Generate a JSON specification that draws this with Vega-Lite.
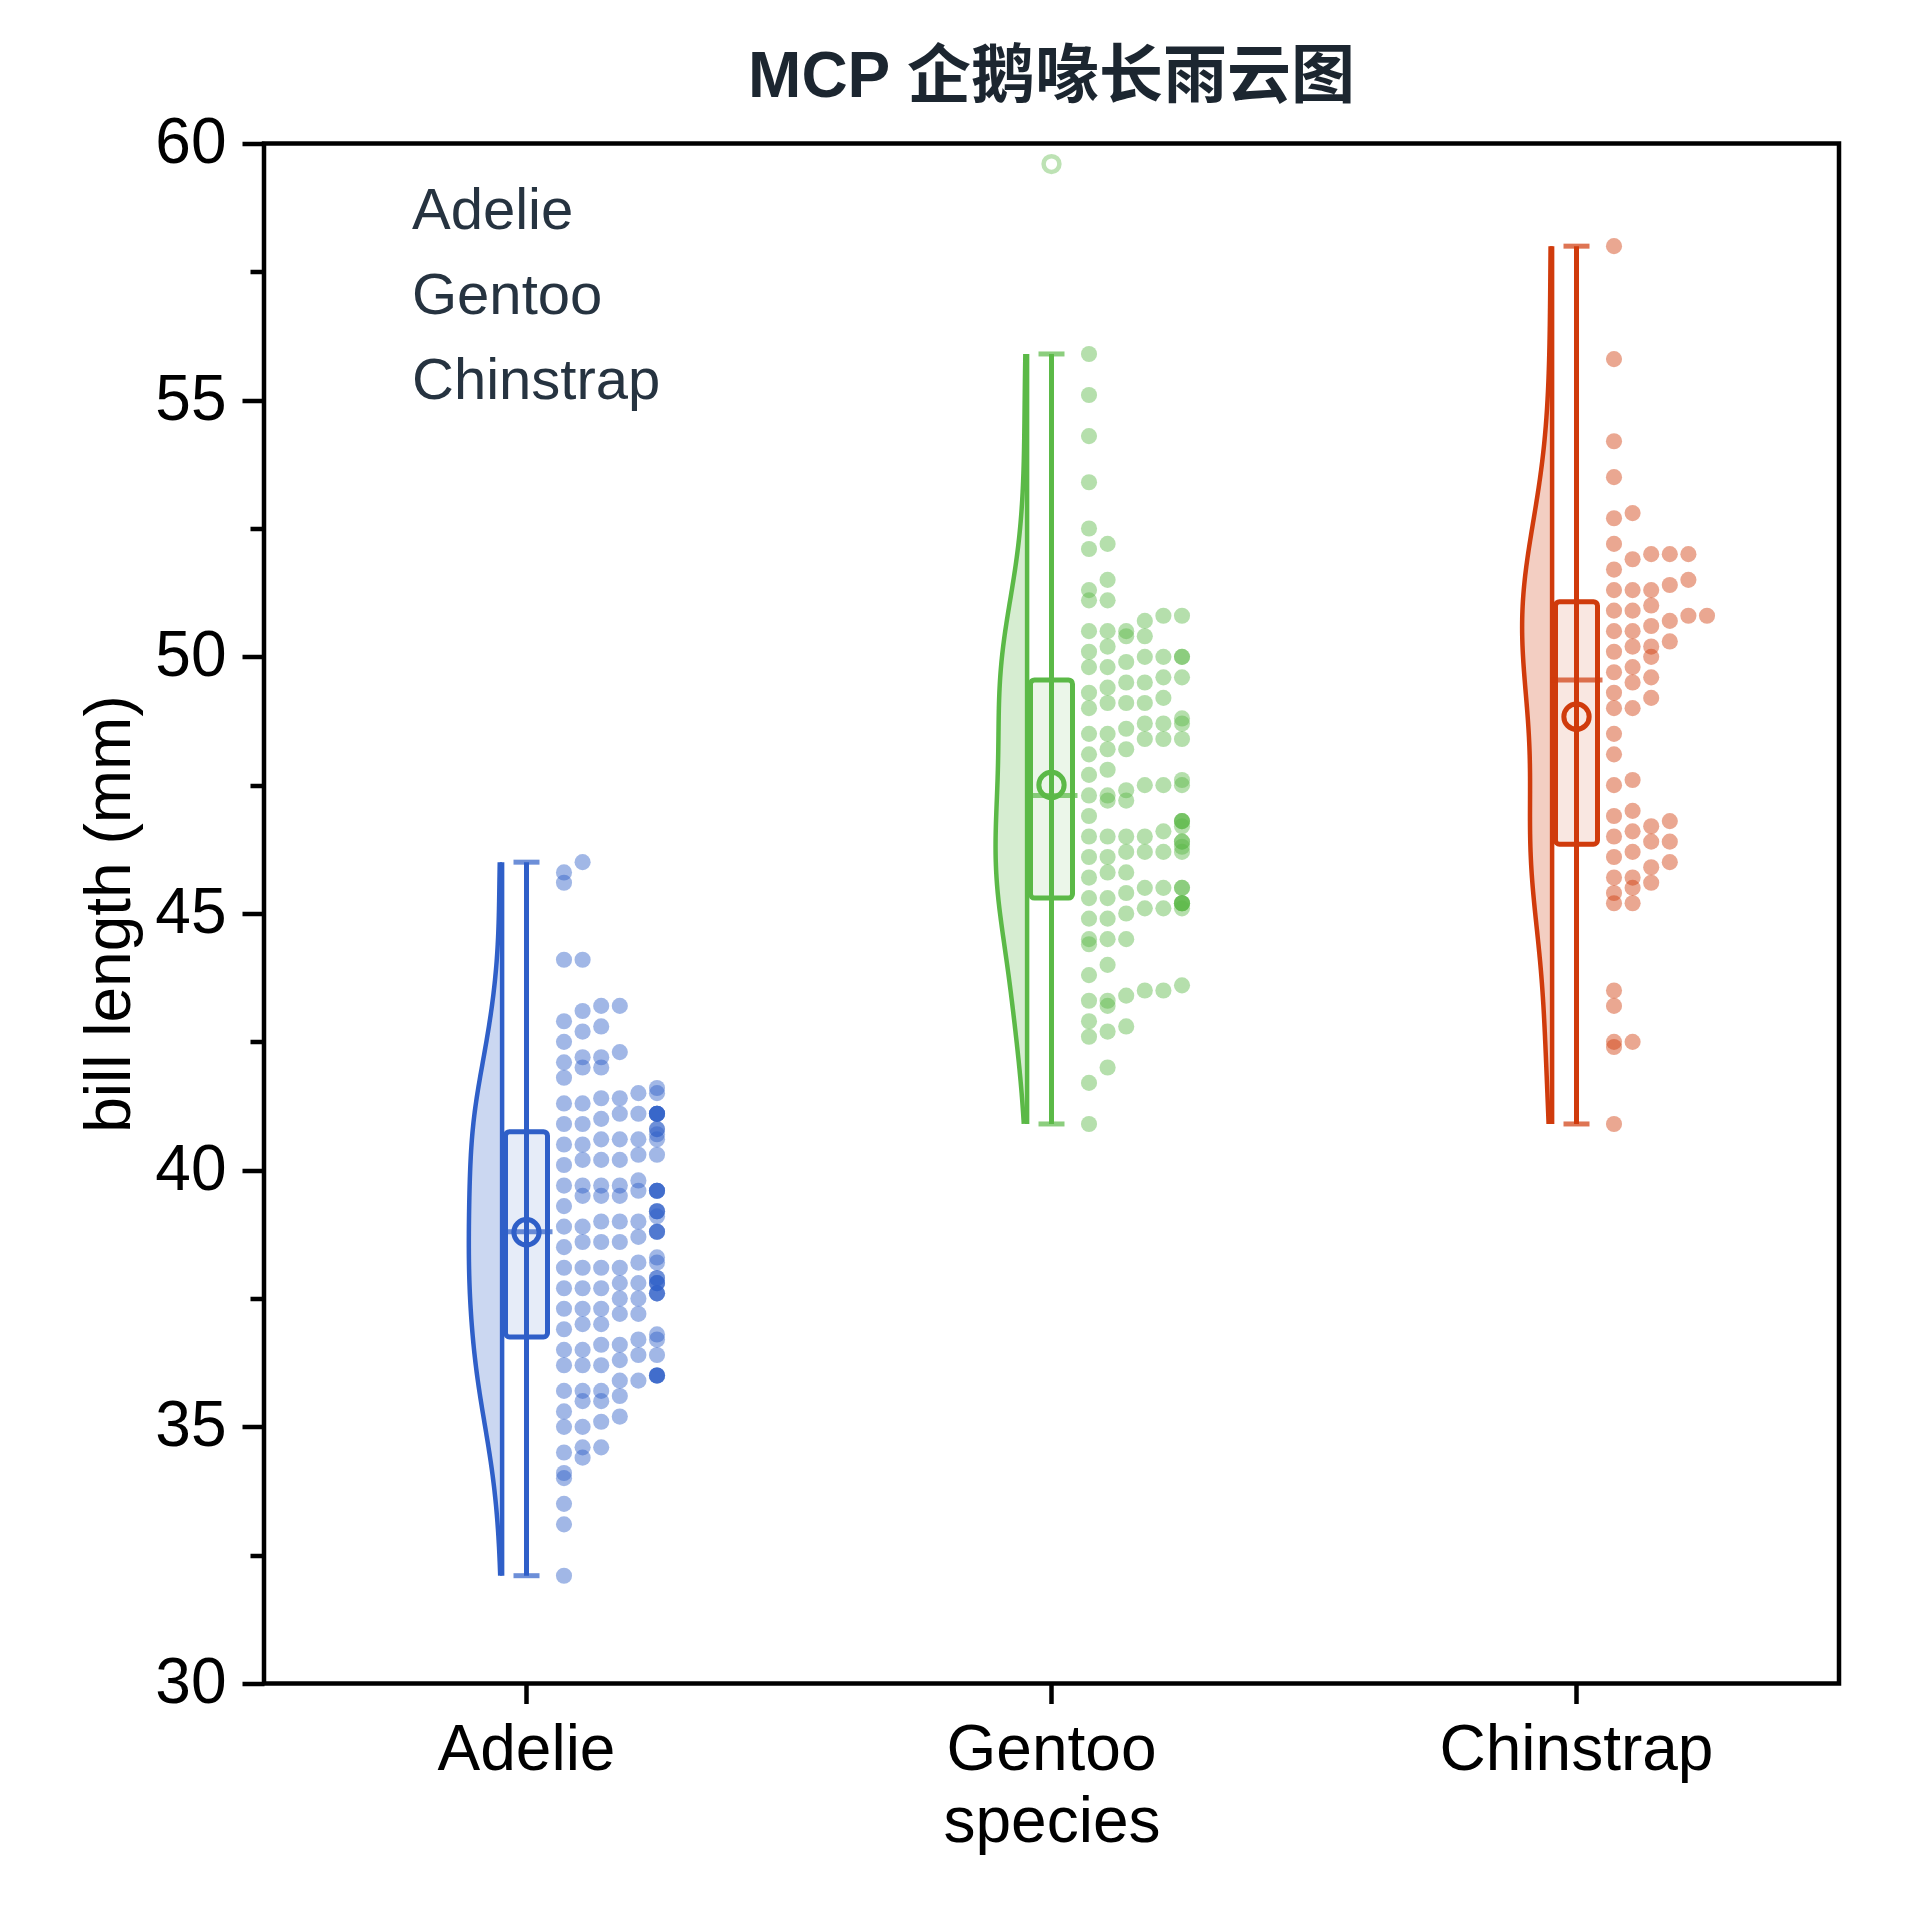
{
"$schema": "https://vega.github.io/schema/vega-lite/v6.json",
"width": 1575, "height": 1540,
"autosize": {"type": "none"},
"padding": {"left": 264, "top": 143.5, "right": 81, "bottom": 236.5},
"background": "white",
"title": {"text": "MCP 企鹅喙长雨云图", "font": "Liberation Sans, Noto Sans CJK SC", "fontSize": 64, "fontWeight": "bold", "color": "#1c2630", "anchor": "middle", "offset": 2},
"config": {"view": {"stroke": "#000000", "strokeWidth": 4.5}},
"datasets": {"penguins": [
{"species":"Adelie","bill":39.1},{"species":"Adelie","bill":39.5},{"species":"Adelie","bill":40.3},{"species":"Adelie","bill":36.7},{"species":"Adelie","bill":39.3},{"species":"Adelie","bill":38.9},{"species":"Adelie","bill":39.2},{"species":"Adelie","bill":34.1},{"species":"Adelie","bill":42.0},{"species":"Adelie","bill":37.8},
{"species":"Adelie","bill":37.8},{"species":"Adelie","bill":41.1},{"species":"Adelie","bill":38.6},{"species":"Adelie","bill":34.6},{"species":"Adelie","bill":36.6},{"species":"Adelie","bill":38.7},{"species":"Adelie","bill":42.5},{"species":"Adelie","bill":34.4},{"species":"Adelie","bill":46.0},{"species":"Adelie","bill":37.8},
{"species":"Adelie","bill":37.7},{"species":"Adelie","bill":35.9},{"species":"Adelie","bill":38.2},{"species":"Adelie","bill":38.8},{"species":"Adelie","bill":35.3},{"species":"Adelie","bill":40.6},{"species":"Adelie","bill":40.5},{"species":"Adelie","bill":37.9},{"species":"Adelie","bill":40.5},{"species":"Adelie","bill":39.5},
{"species":"Adelie","bill":37.2},{"species":"Adelie","bill":39.5},{"species":"Adelie","bill":40.9},{"species":"Adelie","bill":36.4},{"species":"Adelie","bill":39.2},{"species":"Adelie","bill":38.8},{"species":"Adelie","bill":42.2},{"species":"Adelie","bill":37.6},{"species":"Adelie","bill":39.8},{"species":"Adelie","bill":36.5},
{"species":"Adelie","bill":40.8},{"species":"Adelie","bill":36.0},{"species":"Adelie","bill":44.1},{"species":"Adelie","bill":37.0},{"species":"Adelie","bill":39.6},{"species":"Adelie","bill":41.1},{"species":"Adelie","bill":37.5},{"species":"Adelie","bill":36.0},{"species":"Adelie","bill":42.3},{"species":"Adelie","bill":39.6},
{"species":"Adelie","bill":40.1},{"species":"Adelie","bill":35.0},{"species":"Adelie","bill":42.0},{"species":"Adelie","bill":34.5},{"species":"Adelie","bill":41.4},{"species":"Adelie","bill":39.0},{"species":"Adelie","bill":40.6},{"species":"Adelie","bill":36.5},{"species":"Adelie","bill":37.6},{"species":"Adelie","bill":35.7},
{"species":"Adelie","bill":41.3},{"species":"Adelie","bill":37.6},{"species":"Adelie","bill":41.1},{"species":"Adelie","bill":36.4},{"species":"Adelie","bill":41.6},{"species":"Adelie","bill":35.5},{"species":"Adelie","bill":41.1},{"species":"Adelie","bill":35.9},{"species":"Adelie","bill":41.8},{"species":"Adelie","bill":33.5},
{"species":"Adelie","bill":39.7},{"species":"Adelie","bill":39.6},{"species":"Adelie","bill":45.8},{"species":"Adelie","bill":35.5},{"species":"Adelie","bill":42.8},{"species":"Adelie","bill":40.9},{"species":"Adelie","bill":37.2},{"species":"Adelie","bill":36.2},{"species":"Adelie","bill":42.1},{"species":"Adelie","bill":34.6},
{"species":"Adelie","bill":42.9},{"species":"Adelie","bill":36.7},{"species":"Adelie","bill":35.1},{"species":"Adelie","bill":37.3},{"species":"Adelie","bill":41.3},{"species":"Adelie","bill":36.3},{"species":"Adelie","bill":36.9},{"species":"Adelie","bill":38.3},{"species":"Adelie","bill":38.9},{"species":"Adelie","bill":35.7},
{"species":"Adelie","bill":41.1},{"species":"Adelie","bill":34.0},{"species":"Adelie","bill":39.6},{"species":"Adelie","bill":36.2},{"species":"Adelie","bill":40.8},{"species":"Adelie","bill":38.1},{"species":"Adelie","bill":40.3},{"species":"Adelie","bill":33.1},{"species":"Adelie","bill":43.2},{"species":"Adelie","bill":35.0},
{"species":"Adelie","bill":41.0},{"species":"Adelie","bill":37.7},{"species":"Adelie","bill":37.8},{"species":"Adelie","bill":37.9},{"species":"Adelie","bill":39.7},{"species":"Adelie","bill":38.6},{"species":"Adelie","bill":38.2},{"species":"Adelie","bill":38.1},{"species":"Adelie","bill":43.2},{"species":"Adelie","bill":38.1},
{"species":"Adelie","bill":45.6},{"species":"Adelie","bill":39.7},{"species":"Adelie","bill":42.2},{"species":"Adelie","bill":39.6},{"species":"Adelie","bill":42.7},{"species":"Adelie","bill":38.6},{"species":"Adelie","bill":37.3},{"species":"Adelie","bill":35.7},{"species":"Adelie","bill":41.1},{"species":"Adelie","bill":36.2},
{"species":"Adelie","bill":37.7},{"species":"Adelie","bill":40.2},{"species":"Adelie","bill":41.4},{"species":"Adelie","bill":35.2},{"species":"Adelie","bill":40.6},{"species":"Adelie","bill":38.8},{"species":"Adelie","bill":41.5},{"species":"Adelie","bill":39.0},{"species":"Adelie","bill":44.1},{"species":"Adelie","bill":38.5},
{"species":"Adelie","bill":43.1},{"species":"Adelie","bill":36.8},{"species":"Adelie","bill":37.5},{"species":"Adelie","bill":38.1},{"species":"Adelie","bill":41.1},{"species":"Adelie","bill":35.6},{"species":"Adelie","bill":40.2},{"species":"Adelie","bill":37.0},{"species":"Adelie","bill":39.7},{"species":"Adelie","bill":40.2},
{"species":"Adelie","bill":40.6},{"species":"Adelie","bill":32.1},{"species":"Adelie","bill":40.7},{"species":"Adelie","bill":37.3},{"species":"Adelie","bill":39.0},{"species":"Adelie","bill":39.2},{"species":"Adelie","bill":36.6},{"species":"Adelie","bill":36.0},{"species":"Adelie","bill":37.8},{"species":"Adelie","bill":36.0},
{"species":"Adelie","bill":41.5},
{"species":"Gentoo","bill":46.1},{"species":"Gentoo","bill":50.0},{"species":"Gentoo","bill":48.7},{"species":"Gentoo","bill":50.0},{"species":"Gentoo","bill":47.6},{"species":"Gentoo","bill":46.5},{"species":"Gentoo","bill":45.4},{"species":"Gentoo","bill":46.7},{"species":"Gentoo","bill":43.3},{"species":"Gentoo","bill":46.8},
{"species":"Gentoo","bill":40.9},{"species":"Gentoo","bill":49.0},{"species":"Gentoo","bill":45.5},{"species":"Gentoo","bill":48.4},{"species":"Gentoo","bill":45.8},{"species":"Gentoo","bill":49.3},{"species":"Gentoo","bill":42.0},{"species":"Gentoo","bill":49.2},{"species":"Gentoo","bill":46.2},{"species":"Gentoo","bill":48.7},
{"species":"Gentoo","bill":50.2},{"species":"Gentoo","bill":45.1},{"species":"Gentoo","bill":46.5},{"species":"Gentoo","bill":46.3},{"species":"Gentoo","bill":42.9},{"species":"Gentoo","bill":46.1},{"species":"Gentoo","bill":44.5},{"species":"Gentoo","bill":47.8},{"species":"Gentoo","bill":48.2},{"species":"Gentoo","bill":50.0},
{"species":"Gentoo","bill":47.3},{"species":"Gentoo","bill":42.8},{"species":"Gentoo","bill":45.1},{"species":"Gentoo","bill":59.6},{"species":"Gentoo","bill":49.1},{"species":"Gentoo","bill":48.4},{"species":"Gentoo","bill":42.6},{"species":"Gentoo","bill":44.4},{"species":"Gentoo","bill":44.0},{"species":"Gentoo","bill":48.7},
{"species":"Gentoo","bill":42.7},{"species":"Gentoo","bill":49.6},{"species":"Gentoo","bill":45.3},{"species":"Gentoo","bill":49.6},{"species":"Gentoo","bill":50.5},{"species":"Gentoo","bill":43.6},{"species":"Gentoo","bill":45.5},{"species":"Gentoo","bill":50.5},{"species":"Gentoo","bill":44.9},{"species":"Gentoo","bill":45.2},
{"species":"Gentoo","bill":46.6},{"species":"Gentoo","bill":48.5},{"species":"Gentoo","bill":45.1},{"species":"Gentoo","bill":50.1},{"species":"Gentoo","bill":46.5},{"species":"Gentoo","bill":45.0},{"species":"Gentoo","bill":43.8},{"species":"Gentoo","bill":45.5},{"species":"Gentoo","bill":43.2},{"species":"Gentoo","bill":50.4},
{"species":"Gentoo","bill":45.3},{"species":"Gentoo","bill":46.2},{"species":"Gentoo","bill":45.7},{"species":"Gentoo","bill":54.3},{"species":"Gentoo","bill":45.8},{"species":"Gentoo","bill":49.8},{"species":"Gentoo","bill":46.2},{"species":"Gentoo","bill":49.5},{"species":"Gentoo","bill":43.5},{"species":"Gentoo","bill":50.7},
{"species":"Gentoo","bill":47.7},{"species":"Gentoo","bill":46.4},{"species":"Gentoo","bill":48.2},{"species":"Gentoo","bill":46.5},{"species":"Gentoo","bill":46.4},{"species":"Gentoo","bill":48.6},{"species":"Gentoo","bill":47.5},{"species":"Gentoo","bill":51.1},{"species":"Gentoo","bill":45.2},{"species":"Gentoo","bill":45.2},
{"species":"Gentoo","bill":49.1},{"species":"Gentoo","bill":52.5},{"species":"Gentoo","bill":47.4},{"species":"Gentoo","bill":50.0},{"species":"Gentoo","bill":44.9},{"species":"Gentoo","bill":50.8},{"species":"Gentoo","bill":43.4},{"species":"Gentoo","bill":51.3},{"species":"Gentoo","bill":47.5},{"species":"Gentoo","bill":52.1},
{"species":"Gentoo","bill":47.5},{"species":"Gentoo","bill":52.2},{"species":"Gentoo","bill":45.5},{"species":"Gentoo","bill":49.5},{"species":"Gentoo","bill":44.5},{"species":"Gentoo","bill":50.8},{"species":"Gentoo","bill":49.4},{"species":"Gentoo","bill":46.9},{"species":"Gentoo","bill":48.4},{"species":"Gentoo","bill":51.1},
{"species":"Gentoo","bill":48.5},{"species":"Gentoo","bill":55.9},{"species":"Gentoo","bill":47.2},{"species":"Gentoo","bill":49.1},{"species":"Gentoo","bill":47.3},{"species":"Gentoo","bill":46.8},{"species":"Gentoo","bill":41.7},{"species":"Gentoo","bill":53.4},{"species":"Gentoo","bill":43.3},{"species":"Gentoo","bill":48.1},
{"species":"Gentoo","bill":50.5},{"species":"Gentoo","bill":49.8},{"species":"Gentoo","bill":43.5},{"species":"Gentoo","bill":51.5},{"species":"Gentoo","bill":46.2},{"species":"Gentoo","bill":55.1},{"species":"Gentoo","bill":44.5},{"species":"Gentoo","bill":48.8},{"species":"Gentoo","bill":47.2},{"species":"Gentoo","bill":46.8},
{"species":"Gentoo","bill":50.4},{"species":"Gentoo","bill":45.2},{"species":"Gentoo","bill":49.9},
{"species":"Chinstrap","bill":46.5},{"species":"Chinstrap","bill":50.0},{"species":"Chinstrap","bill":51.3},{"species":"Chinstrap","bill":45.4},{"species":"Chinstrap","bill":52.7},{"species":"Chinstrap","bill":45.2},{"species":"Chinstrap","bill":46.1},{"species":"Chinstrap","bill":51.3},{"species":"Chinstrap","bill":46.0},{"species":"Chinstrap","bill":51.3},
{"species":"Chinstrap","bill":46.6},{"species":"Chinstrap","bill":51.7},{"species":"Chinstrap","bill":47.0},{"species":"Chinstrap","bill":52.0},{"species":"Chinstrap","bill":45.9},{"species":"Chinstrap","bill":50.5},{"species":"Chinstrap","bill":50.3},{"species":"Chinstrap","bill":58.0},{"species":"Chinstrap","bill":46.4},{"species":"Chinstrap","bill":49.2},
{"species":"Chinstrap","bill":42.4},{"species":"Chinstrap","bill":48.5},{"species":"Chinstrap","bill":43.2},{"species":"Chinstrap","bill":50.6},{"species":"Chinstrap","bill":46.7},{"species":"Chinstrap","bill":52.0},{"species":"Chinstrap","bill":50.5},{"species":"Chinstrap","bill":49.5},{"species":"Chinstrap","bill":46.4},{"species":"Chinstrap","bill":52.8},
{"species":"Chinstrap","bill":40.9},{"species":"Chinstrap","bill":54.2},{"species":"Chinstrap","bill":42.5},{"species":"Chinstrap","bill":51.0},{"species":"Chinstrap","bill":49.7},{"species":"Chinstrap","bill":47.5},{"species":"Chinstrap","bill":47.6},{"species":"Chinstrap","bill":52.0},{"species":"Chinstrap","bill":46.9},{"species":"Chinstrap","bill":53.5},
{"species":"Chinstrap","bill":49.0},{"species":"Chinstrap","bill":46.2},{"species":"Chinstrap","bill":50.9},{"species":"Chinstrap","bill":45.5},{"species":"Chinstrap","bill":50.9},{"species":"Chinstrap","bill":50.8},{"species":"Chinstrap","bill":50.1},{"species":"Chinstrap","bill":49.0},{"species":"Chinstrap","bill":51.5},{"species":"Chinstrap","bill":49.8},
{"species":"Chinstrap","bill":48.1},{"species":"Chinstrap","bill":51.4},{"species":"Chinstrap","bill":45.7},{"species":"Chinstrap","bill":50.7},{"species":"Chinstrap","bill":42.5},{"species":"Chinstrap","bill":52.2},{"species":"Chinstrap","bill":45.2},{"species":"Chinstrap","bill":49.3},{"species":"Chinstrap","bill":50.2},{"species":"Chinstrap","bill":45.6},
{"species":"Chinstrap","bill":51.9},{"species":"Chinstrap","bill":46.8},{"species":"Chinstrap","bill":45.7},{"species":"Chinstrap","bill":55.8},{"species":"Chinstrap","bill":43.5},{"species":"Chinstrap","bill":49.6},{"species":"Chinstrap","bill":50.8},{"species":"Chinstrap","bill":50.2}
]},
"data": {"name": "penguins"},
"resolve": {"scale": {"xOffset": "independent"}},
"encoding": {
  "x": {"field": "species", "type": "nominal", "title": "species",
    "scale": {"domain": ["Adelie", "Gentoo", "Chinstrap"], "paddingInner": 0, "paddingOuter": 0},
    "axis": {"labelAngle": 0, "labelFont": "Liberation Sans", "labelFontSize": 64, "labelColor": "#000000", "labelLimit": 600, "titleFont": "Liberation Sans", "titleFontSize": 64, "titleFontWeight": "normal", "titleColor": "#000000", "tickSize": 20, "tickWidth": 4.5, "tickColor": "#000000", "domain": false, "grid": false, "labelPadding": 15, "titlePadding": 8}}
},
"layer": [
  {
    "transform": [
      {"filter": {"field": "species", "equal": "Adelie"}},
      {"joinaggregate": [{"op": "q1", "field": "bill", "as": "q1"}, {"op": "q3", "field": "bill", "as": "q3"}], "groupby": ["species"]},
      {"filter": "datum.bill >= datum.q1 - 1.5*(datum.q3-datum.q1) && datum.bill <= datum.q3 + 1.5*(datum.q3-datum.q1)"},
      {"density": "bill", "groupby": ["species"], "as": ["value", "density"]}
    ],
    "encoding": {
      "y": {"field": "value", "type": "quantitative", "stack": null, "title": "bill length (mm)",
        "scale": {"domain": [30, 60], "nice": false, "zero": false},
        "axis": {"values": [30, 32.5, 35, 37.5, 40, 42.5, 45, 47.5, 50, 52.5, 55, 57.5, 60],
          "labelExpr": "datum.value % 5 === 0 ? datum.label : ''",
          "tickSize": {"condition": {"test": "datum.value % 5 === 0", "value": 22}, "value": 14},
          "tickWidth": 4.5, "tickColor": "#000000", "domain": false, "grid": false,
          "labelFont": "Liberation Sans", "labelFontSize": 64, "labelColor": "#000000", "labelPadding": 16,
          "titleFont": "Liberation Sans", "titleFontSize": 64, "titleFontWeight": "normal", "titleColor": "#000000", "titlePadding": 12}},
      "xOffset": {"field": "density", "type": "quantitative", "scale": {"domain": [0, 0.14], "range": [238, 202]}},
      "color": {"field": "species", "type": "nominal",
        "scale": {"domain": ["Adelie", "Gentoo", "Chinstrap"], "range": ["#2f5fc8", "#5bb947", "#d03b0c"]},
        "legend": {"orient": "none", "legendX": 90, "legendY": 39, "title": null, "symbolSize": 0, "symbolOpacity": 0, "symbolStrokeWidth": 0, "labelFont": "Liberation Sans", "labelFontSize": 58, "labelColor": "#263340", "rowPadding": 27, "padding": 0, "labelOffset": 0, "labelLimit": 0}}
    },
    "layer": [
      {"mark": {"type": "area", "orient": "horizontal", "x2Offset": -24.4}, "encoding": {"x2": {"field": "species"}, "fillOpacity": {"value": 0.25}}},
      {"mark": {"type": "line", "strokeWidth": 4.5}, "encoding": {"order": {"field": "value", "type": "quantitative"}}}
    ]
  },
  {
    "transform": [
      {"filter": {"field": "species", "equal": "Gentoo"}},
      {"joinaggregate": [{"op": "q1", "field": "bill", "as": "q1"}, {"op": "q3", "field": "bill", "as": "q3"}], "groupby": ["species"]},
      {"filter": "datum.bill >= datum.q1 - 1.5*(datum.q3-datum.q1) && datum.bill <= datum.q3 + 1.5*(datum.q3-datum.q1)"},
      {"density": "bill", "groupby": ["species"], "as": ["value", "density"]}
    ],
    "encoding": {
      "y": {"field": "value", "type": "quantitative", "stack": null, "title": "bill length (mm)", "scale": {"domain": [30, 60], "nice": false, "zero": false}},
      "xOffset": {"field": "density", "type": "quantitative", "scale": {"domain": [0, 0.14], "range": [238, 202]}},
      "color": {"field": "species", "type": "nominal", "scale": {"domain": ["Adelie", "Gentoo", "Chinstrap"], "range": ["#2f5fc8", "#5bb947", "#d03b0c"]}}
    },
    "layer": [
      {"mark": {"type": "area", "orient": "horizontal", "x2Offset": -24.4}, "encoding": {"x2": {"field": "species"}, "fillOpacity": {"value": 0.25}}},
      {"mark": {"type": "line", "strokeWidth": 4.5}, "encoding": {"order": {"field": "value", "type": "quantitative"}}}
    ]
  },
  {
    "transform": [
      {"filter": {"field": "species", "equal": "Chinstrap"}},
      {"joinaggregate": [{"op": "q1", "field": "bill", "as": "q1"}, {"op": "q3", "field": "bill", "as": "q3"}], "groupby": ["species"]},
      {"filter": "datum.bill >= datum.q1 - 1.5*(datum.q3-datum.q1) && datum.bill <= datum.q3 + 1.5*(datum.q3-datum.q1)"},
      {"density": "bill", "groupby": ["species"], "as": ["value", "density"]}
    ],
    "encoding": {
      "y": {"field": "value", "type": "quantitative", "stack": null, "title": "bill length (mm)", "scale": {"domain": [30, 60], "nice": false, "zero": false}},
      "xOffset": {"field": "density", "type": "quantitative", "scale": {"domain": [0, 0.14], "range": [238, 202]}},
      "color": {"field": "species", "type": "nominal", "scale": {"domain": ["Adelie", "Gentoo", "Chinstrap"], "range": ["#2f5fc8", "#5bb947", "#d03b0c"]}}
    },
    "layer": [
      {"mark": {"type": "area", "orient": "horizontal", "x2Offset": -24.4}, "encoding": {"x2": {"field": "species"}, "fillOpacity": {"value": 0.25}}},
      {"mark": {"type": "line", "strokeWidth": 4.5}, "encoding": {"order": {"field": "value", "type": "quantitative"}}}
    ]
  },
  {
    "transform": [
      {"joinaggregate": [{"op": "q1", "field": "bill", "as": "q1"}, {"op": "q3", "field": "bill", "as": "q3"}], "groupby": ["species"]},
      {"filter": "datum.bill >= datum.q1 - 1.5*(datum.q3-datum.q1) && datum.bill <= datum.q3 + 1.5*(datum.q3-datum.q1)"},
      {"bin": {"step": 0.4, "anchor": 30.05}, "field": "bill", "as": "bbin"},
      {"window": [{"op": "row_number", "as": "col"}], "groupby": ["species", "bbin"], "sort": [{"field": "bill", "order": "ascending"}]}
    ],
    "mark": {"type": "circle", "size": 260, "opacity": 0.45},
    "encoding": {
      "y": {"field": "bill", "type": "quantitative", "title": "bill length (mm)", "scale": {"domain": [30, 60], "nice": false, "zero": false}},
      "xOffset": {"field": "col", "type": "quantitative", "scale": {"domain": [1, 6], "range": [300, 393], "clamp": true}},
      "color": {"field": "species", "type": "nominal", "scale": {"domain": ["Adelie", "Gentoo", "Chinstrap"], "range": ["#2f5fc8", "#5bb947", "#d03b0c"]}}
    }
  },
  {
    "transform": [
      {"joinaggregate": [{"op": "q1", "field": "bill", "as": "q1"}, {"op": "q3", "field": "bill", "as": "q3"}], "groupby": ["species"]},
      {"filter": "datum.bill >= datum.q1 - 1.5*(datum.q3-datum.q1) && datum.bill <= datum.q3 + 1.5*(datum.q3-datum.q1)"},
      {"aggregate": [{"op": "min", "field": "bill", "as": "lo"}, {"op": "max", "field": "bill", "as": "hi"}], "groupby": ["species"]}
    ],
    "layer": [
      {
        "mark": {"type": "rule", "xOffset": -24.4, "strokeWidth": 4.5},
        "encoding": {
          "y": {"field": "lo", "type": "quantitative", "title": "bill length (mm)", "scale": {"domain": [30, 60], "nice": false, "zero": false}},
          "y2": {"field": "hi"},
          "color": {"field": "species", "type": "nominal", "scale": {"domain": ["Adelie", "Gentoo", "Chinstrap"], "range": ["#2f5fc8", "#5bb947", "#d03b0c"]}}
        }
      },
      {
        "mark": {"type": "rule", "strokeWidth": 5},
        "encoding": {
          "y": {"field": "lo", "type": "quantitative", "title": "bill length (mm)", "scale": {"domain": [30, 60], "nice": false, "zero": false}},
          "y2": {"field": "hi"},
          "color": {"field": "species", "type": "nominal", "scale": {"domain": ["Adelie", "Gentoo", "Chinstrap"], "range": ["#2f5fc8", "#5bb947", "#d03b0c"]}}
        }
      },
      {
        "transform": [{"fold": ["lo", "hi"], "as": ["end", "v"]}],
        "mark": {"type": "tick", "size": 26, "thickness": 5},
        "encoding": {
          "y": {"field": "v", "type": "quantitative", "title": "bill length (mm)", "scale": {"domain": [30, 60], "nice": false, "zero": false}},
          "color": {"field": "species", "type": "nominal", "scale": {"domain": ["Adelie", "Gentoo", "Chinstrap"], "range": ["#2f5fc8", "#5bb947", "#d03b0c"]}}
        }
      }
    ]
  },
  {
    "transform": [
      {"aggregate": [{"op": "q1", "field": "bill", "as": "q1"}, {"op": "q3", "field": "bill", "as": "q3"}, {"op": "median", "field": "bill", "as": "med"}, {"op": "mean", "field": "bill", "as": "avg"}], "groupby": ["species"]}
    ],
    "layer": [
      {
        "mark": {"type": "bar", "width": 42, "fillOpacity": 0.12, "strokeWidth": 5, "cornerRadius": 4},
        "encoding": {
          "y": {"field": "q1", "type": "quantitative", "title": "bill length (mm)", "scale": {"domain": [30, 60], "nice": false, "zero": false}},
          "y2": {"field": "q3"},
          "color": {"field": "species", "type": "nominal", "scale": {"domain": ["Adelie", "Gentoo", "Chinstrap"], "range": ["#2f5fc8", "#5bb947", "#d03b0c"]}},
          "stroke": {"field": "species", "type": "nominal", "legend": null, "scale": {"domain": ["Adelie", "Gentoo", "Chinstrap"], "range": ["#2f5fc8", "#5bb947", "#d03b0c"]}}
        }
      },
      {
        "mark": {"type": "tick", "size": 52, "thickness": 5},
        "encoding": {
          "y": {"field": "med", "type": "quantitative", "title": "bill length (mm)", "scale": {"domain": [30, 60], "nice": false, "zero": false}},
          "color": {"field": "species", "type": "nominal", "scale": {"domain": ["Adelie", "Gentoo", "Chinstrap"], "range": ["#2f5fc8", "#5bb947", "#d03b0c"]}}
        }
      },
      {
        "mark": {"type": "point", "shape": "circle", "filled": false, "size": 640, "strokeWidth": 5, "opacity": 1},
        "encoding": {
          "y": {"field": "avg", "type": "quantitative", "title": "bill length (mm)", "scale": {"domain": [30, 60], "nice": false, "zero": false}},
          "color": {"field": "species", "type": "nominal", "scale": {"domain": ["Adelie", "Gentoo", "Chinstrap"], "range": ["#2f5fc8", "#5bb947", "#d03b0c"]}}
        }
      }
    ]
  },
  {
    "transform": [
      {"joinaggregate": [{"op": "q1", "field": "bill", "as": "q1"}, {"op": "q3", "field": "bill", "as": "q3"}], "groupby": ["species"]},
      {"filter": "datum.bill < datum.q1 - 1.5*(datum.q3-datum.q1) || datum.bill > datum.q3 + 1.5*(datum.q3-datum.q1)"}
    ],
    "mark": {"type": "point", "shape": "circle", "filled": false, "size": 250, "strokeWidth": 4.5, "opacity": 0.4},
    "encoding": {
      "y": {"field": "bill", "type": "quantitative", "title": "bill length (mm)", "scale": {"domain": [30, 60], "nice": false, "zero": false}},
      "color": {"field": "species", "type": "nominal", "scale": {"domain": ["Adelie", "Gentoo", "Chinstrap"], "range": ["#2f5fc8", "#5bb947", "#d03b0c"]}}
    }
  }
]
}
